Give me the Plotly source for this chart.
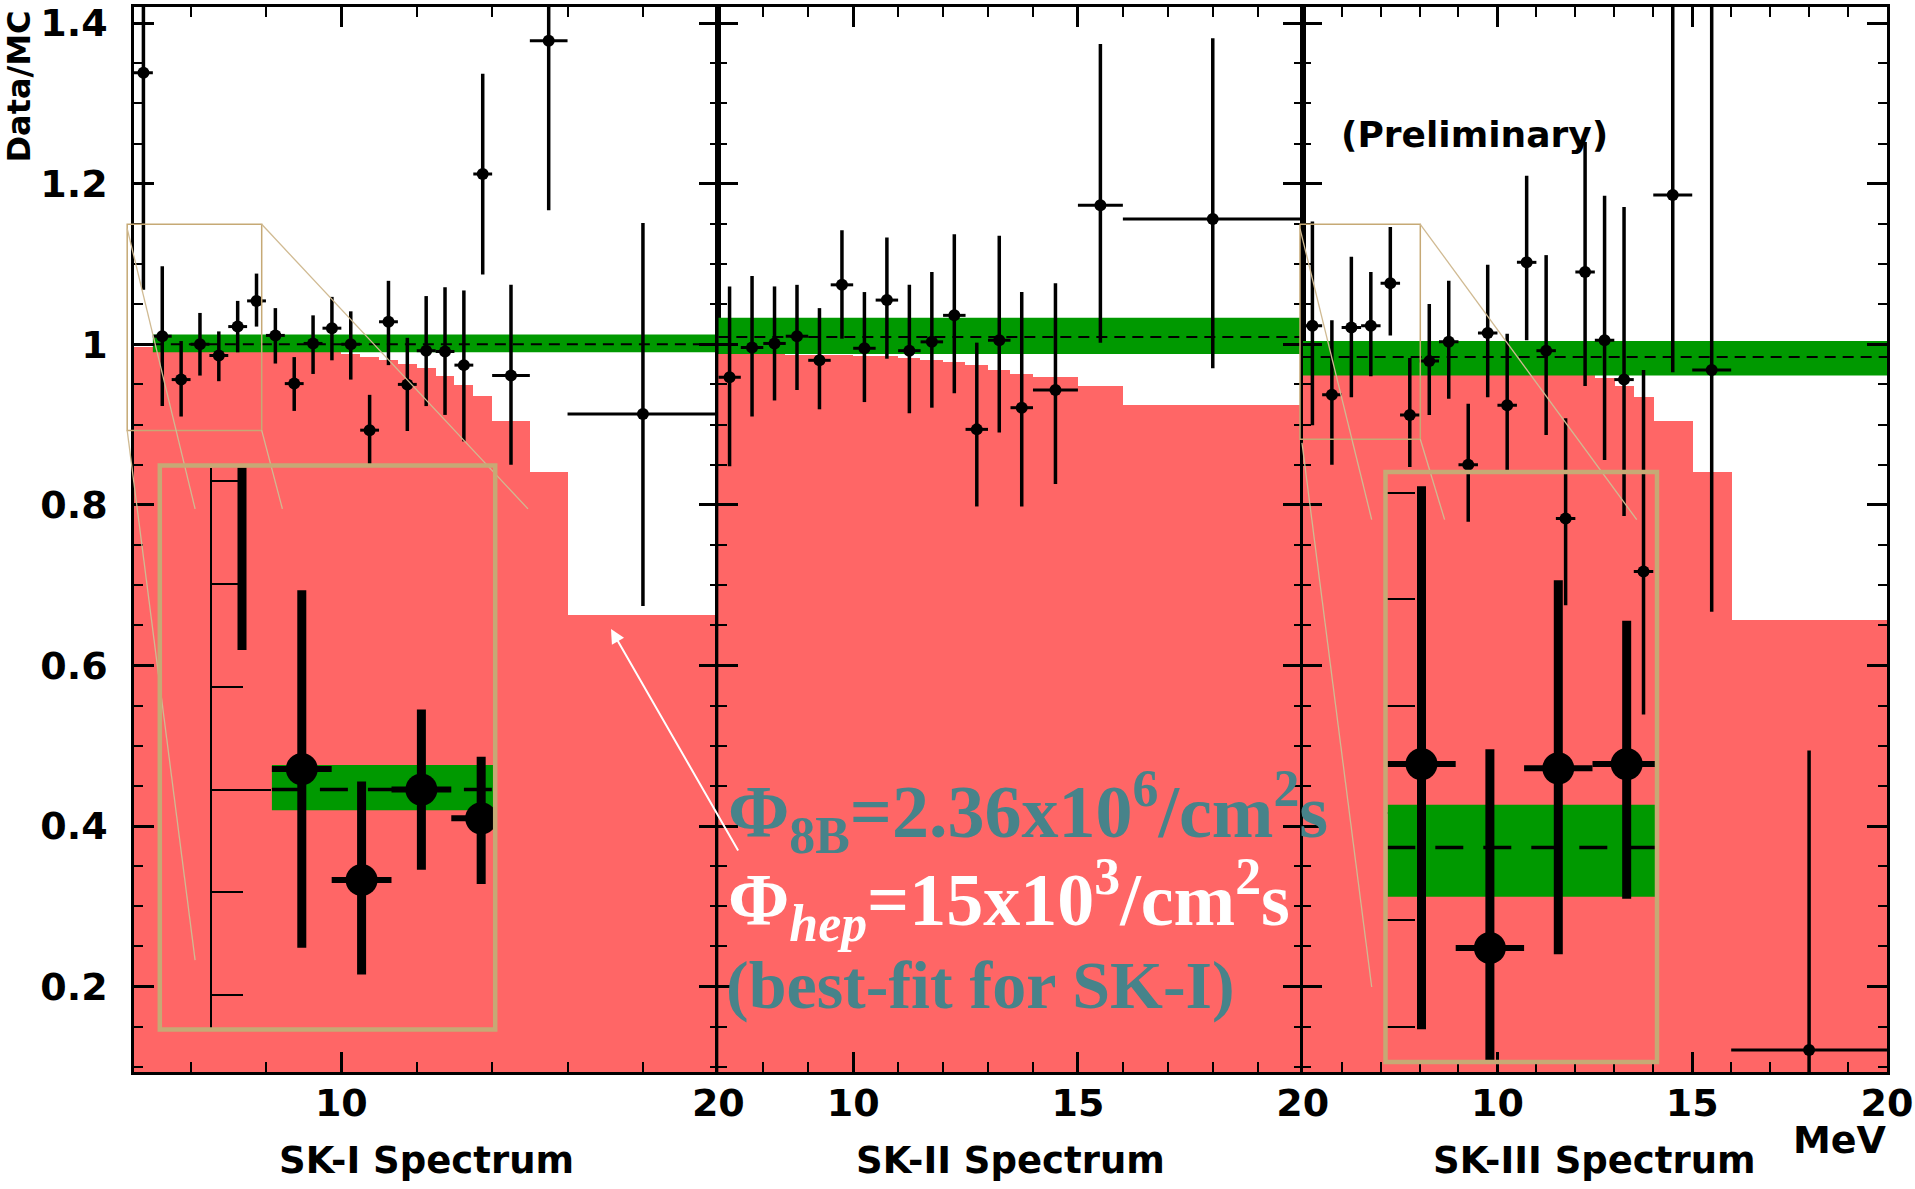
import plotly.graph_objects as go

# ---------------- data ----------------
# SK-I spectrum: bin centres (MeV), half widths, Data/MC, asymmetric errors
sk1_energy = [4.75, 5.25, 5.75, 6.25, 6.75, 7.25, 7.75, 8.25, 8.75, 9.25, 9.75,
              10.25, 10.75, 11.25, 11.75, 12.25, 12.75, 13.25, 13.75, 14.5, 15.5, 18.0]
sk1_halfwidth = [0.25, 0.25, 0.25, 0.25, 0.25, 0.25, 0.25, 0.25, 0.25, 0.25, 0.25,
                 0.25, 0.25, 0.25, 0.25, 0.25, 0.25, 0.25, 0.25, 0.5, 0.5, 2.0]
sk1_ratio = [1.338, 1.010, 0.956, 1.000, 0.986, 1.022, 1.054, 1.011, 0.951, 1.001, 1.020,
             1.000, 0.893, 1.028, 0.950, 0.992, 0.991, 0.974, 1.212, 0.961, 1.378, 0.913]
sk1_err_up = [0.27, 0.087, 0.048, 0.039, 0.030, 0.032, 0.034, 0.034, 0.033, 0.035, 0.039,
              0.041, 0.044, 0.051, 0.058, 0.068, 0.080, 0.093, 0.125, 0.113, 0.23, 0.238]
sk1_err_dn = [0.27, 0.087, 0.046, 0.039, 0.032, 0.032, 0.032, 0.035, 0.034, 0.038, 0.040,
              0.044, 0.044, 0.054, 0.058, 0.069, 0.079, 0.095, 0.125, 0.111, 0.211, 0.239]
sk1_mc_edges = [4.5, 5.0, 5.5, 6.0, 6.5, 7.0, 7.5, 8.0, 8.5, 9.0, 9.5, 10.0, 10.5, 11.0,
                11.5, 12.0, 12.5, 13.0, 13.5, 14.0, 15.0, 16.0, 20.0]
sk1_mc = [0.997, 0.996, 0.996, 0.995, 0.995, 0.994, 0.994, 0.993, 0.992, 0.991, 0.990,
          0.988, 0.984, 0.980, 0.975, 0.970, 0.960, 0.949, 0.936, 0.904, 0.841, 0.663]
sk1_band = [0.990, 1.012]
sk1_band_centre = 1.000
sk1_band_start = 5.0

# SK-II spectrum
sk2_energy = [7.25, 7.75, 8.25, 8.75, 9.25, 9.75, 10.25, 10.75, 11.25, 11.75, 12.25,
              12.75, 13.25, 13.75, 14.5, 15.5, 18.0]
sk2_halfwidth = [0.25, 0.25, 0.25, 0.25, 0.25, 0.25, 0.25, 0.25, 0.25, 0.25, 0.25,
                 0.25, 0.25, 0.25, 0.5, 0.5, 2.0]
sk2_ratio = [0.959, 0.996, 1.001, 1.010, 0.980, 1.074, 0.995, 1.055, 0.992, 1.003, 1.036,
             0.894, 1.005, 0.921, 0.943, 1.173, 1.156]
sk2_err_up = [0.113, 0.089, 0.071, 0.064, 0.065, 0.068, 0.070, 0.078, 0.082, 0.087, 0.101,
              0.108, 0.130, 0.144, 0.133, 0.201, 0.225]
sk2_err_dn = [0.111, 0.086, 0.071, 0.067, 0.061, 0.067, 0.067, 0.073, 0.078, 0.082, 0.097,
              0.096, 0.115, 0.123, 0.117, 0.171, 0.186]
sk2_mc_edges = [7.0, 7.5, 8.0, 8.5, 9.0, 9.5, 10.0, 10.5, 11.0, 11.5, 12.0, 12.5, 13.0,
                13.5, 14.0, 15.0, 16.0, 20.0]
sk2_mc = [0.988, 0.988, 0.988, 0.987, 0.987, 0.987, 0.986, 0.985, 0.983, 0.980, 0.978,
          0.974, 0.968, 0.963, 0.959, 0.948, 0.924]
sk2_band = [0.988, 1.033]
sk2_band_centre = 1.009
sk2_band_start = 7.0

# SK-III spectrum (preliminary)
sk3_energy = [5.25, 5.75, 6.25, 6.75, 7.25, 7.75, 8.25, 8.75, 9.25, 9.75, 10.25, 10.75,
              11.25, 11.75, 12.25, 12.75, 13.25, 13.75, 14.5, 15.5, 18.0]
sk3_halfwidth = [0.25, 0.25, 0.25, 0.25, 0.25, 0.25, 0.25, 0.25, 0.25, 0.25, 0.25, 0.25,
                 0.25, 0.25, 0.25, 0.25, 0.25, 0.25, 0.5, 0.5, 2.0]
sk3_ratio = [1.023, 0.937, 1.021, 1.023, 1.076, 0.912, 0.979, 1.003, 0.850, 1.014, 0.924,
             1.102, 0.992, 0.783, 1.090, 1.005, 0.956, 0.717, 1.186, 0.968, 0.121]
sk3_err_up = [0.130, 0.093, 0.088, 0.067, 0.070, 0.071, 0.071, 0.076, 0.076, 0.085, 0.089,
              0.108, 0.119, 0.125, 0.162, 0.180, 0.215, 0.251, 0.26, 0.48, 0.373]
sk3_err_dn = [0.124, 0.087, 0.087, 0.063, 0.065, 0.065, 0.067, 0.071, 0.071, 0.080, 0.081,
              0.097, 0.105, 0.108, 0.142, 0.149, 0.170, 0.178, 0.221, 0.301, 0.12]
sk3_mc_edges = [5.0, 5.5, 6.0, 6.5, 7.0, 7.5, 8.0, 8.5, 9.0, 9.5, 10.0, 10.5, 11.0, 11.5,
                12.0, 12.5, 13.0, 13.5, 14.0, 15.0, 16.0, 20.0]
sk3_mc = [0.996, 0.996, 0.995, 0.995, 0.994, 0.994, 0.993, 0.992, 0.991, 0.990, 0.988,
          0.984, 0.980, 0.975, 0.969, 0.958, 0.948, 0.934, 0.905, 0.841, 0.657]
sk3_band = [0.961, 1.004]
sk3_band_centre = 0.984
sk3_band_start = 5.0

panel_titles = ["SK-I Spectrum", "SK-II Spectrum", "SK-III Spectrum"]
y_tick_values = [0.2, 0.4, 0.6, 0.8, 1.0, 1.2, 1.4]
y_tick_text = ["0.2", "0.4", "0.6", "0.8", "1", "1.2", "1.4"]
energy_max = 20.0

# ---------------- layout geometry (pixels of the 1915x1189 page) ----------------
FIG_W, FIG_H = 1915, 1189
ML, MR, MT, MB = 134, 28, 7, 117
PLOT_W = FIG_W - ML - MR
PLOT_H = FIG_H - MT - MB


def fx(px):
    return (px - ML) / PLOT_W


def fy(py):
    return (FIG_H - MB - py) / PLOT_H


RED = "#FF6666"
GREEN = "#009900"
TAN = "#C6A975"
TAN_LIGHT = "#D0BA92"
TEAL = "#47838A"
Y_RANGE = [0.0937, 1.42]

panels = [
    dict(e=sk1_energy, hw=sk1_halfwidth, r=sk1_ratio, up=sk1_err_up, dn=sk1_err_dn,
         edges=sk1_mc_edges, mc=sk1_mc, band=sk1_band, c=sk1_band_centre, start=sk1_band_start,
         xr=[4.5, 20], xa="x", ya="y", tv=[10, 20], mdt=2),
    dict(e=sk2_energy, hw=sk2_halfwidth, r=sk2_ratio, up=sk2_err_up, dn=sk2_err_dn,
         edges=sk2_mc_edges, mc=sk2_mc, band=sk2_band, c=sk2_band_centre, start=sk2_band_start,
         xr=[7, 20], xa="x2", ya="y2", tv=[10, 15, 20], mdt=1),
    dict(e=sk3_energy, hw=sk3_halfwidth, r=sk3_ratio, up=sk3_err_up, dn=sk3_err_dn,
         edges=sk3_mc_edges, mc=sk3_mc, band=sk3_band, c=sk3_band_centre, start=sk3_band_start,
         xr=[5, 20], xa="x3", ya="y3", tv=[10, 15, 20], mdt=1),
]

fig = go.Figure()


def add_band(p, xa, ya, dash, dwidth):
    lo, hi = p["band"]
    fig.add_trace(go.Scatter(
        x=[p["start"], energy_max, energy_max, p["start"]], y=[lo, lo, hi, hi],
        mode="lines", fill="toself", fillcolor=GREEN, line=dict(width=0),
        xaxis=xa, yaxis=ya, hoverinfo="skip"))
    fig.add_trace(go.Scatter(
        x=[p["start"], energy_max], y=[p["c"], p["c"]], mode="lines",
        line=dict(color="black", width=dwidth, dash=dash),
        xaxis=xa, yaxis=ya, hoverinfo="skip"))


def add_points(p, xa, ya, msize, tx, ty):
    fig.add_trace(go.Scatter(
        x=p["e"], y=p["r"], mode="markers",
        marker=dict(size=msize, color="black", symbol="circle", line=dict(width=0)),
        error_x=dict(type="data", array=p["hw"], color="black", thickness=tx, width=0),
        error_y=dict(type="data", array=p["up"], arrayminus=p["dn"], color="black",
                     thickness=ty, width=0),
        xaxis=xa, yaxis=ya))


for p in panels:
    edges = p["edges"]
    centres = [(a + b) / 2 for a, b in zip(edges[:-1], edges[1:])]
    widths = [b - a for a, b in zip(edges[:-1], edges[1:])]
    fig.add_trace(go.Bar(x=centres, y=p["mc"], width=widths, marker=dict(color=RED, line=dict(width=0)),
                         xaxis=p["xa"], yaxis=p["ya"], hoverinfo="skip"))
    add_band(p, p["xa"], p["ya"], "11px,7px", 2)
    add_points(p, p["xa"], p["ya"], 12, 3, 3.5)

# magnified insets (SK-I in x4/y4, SK-III in x5/y5)
add_band(panels[0], "x4", "y4", "28px,20px", 3.5)
add_points(panels[0], "x4", "y4", 32, 6, 9)
add_band(panels[2], "x5", "y5", "28px,20px", 3.5)
add_points(panels[2], "x5", "y5", 32, 6, 9)

tickfont = dict(family="DejaVu Sans", size=38, color="black", weight="bold")
layout_axes = {}
for i, p in enumerate(panels):
    n = "" if i == 0 else str(i + 1)
    layout_axes["xaxis" + n] = dict(
        domain=[i / 3, (i + 1) / 3], range=p["xr"], anchor="y" + n,
        showline=True, linecolor="black", linewidth=2.5, mirror="allticks",
        ticks="inside", ticklen=20, tickwidth=2.5, tickcolor="black",
        tickvals=p["tv"], ticktext=[str(v) for v in p["tv"]],
        tickfont=tickfont, ticklabelstandoff=-4,
        minor=dict(ticks="inside", ticklen=10, tickwidth=2, tickcolor="black",
                   dtick=p["mdt"], tick0=0, showgrid=False),
        showgrid=False, zeroline=False, fixedrange=True)
    layout_axes["yaxis" + n] = dict(
        domain=[0, 1], range=Y_RANGE, anchor="x" + n,
        showline=True, linecolor="black", linewidth=2.5, mirror="allticks",
        ticks="inside", ticklen=20, tickwidth=2.5, tickcolor="black",
        tickvals=y_tick_values, ticktext=y_tick_text,
        showticklabels=(i == 0), tickfont=tickfont, ticklabelstandoff=16,
        minor=dict(ticks="inside", ticklen=9, tickwidth=2, tickcolor="black",
                   dtick=0.05, tick0=0, showgrid=False),
        showgrid=False, zeroline=False, fixedrange=True)

# inset axes (domains placed over the tan frames)
inset_specs = [
    ("4", [fx(212.1), fx(493.5)], [fy(1027.5), fy(467.5)], [4.5, 6.853], [0.8842, 1.1568], 31),
    ("5", [fx(1387.3), fx(1655)], [fy(1060.6), fy(474)], [5.0, 6.957], [0.8843, 1.1587], 28),
]
for n, dx, dy, rx, ry, tl in inset_specs:
    layout_axes["xaxis" + n] = dict(domain=dx, range=rx, anchor="y" + n, visible=False)
    layout_axes["yaxis" + n] = dict(
        domain=dy, range=ry, anchor="x" + n, showline=True, linecolor="black", linewidth=1.5,
        ticks="inside", tickvals=[1.0], ticklen=59, tickwidth=1.5, tickcolor="black",
        showticklabels=False, layer="below traces",
        minor=dict(ticks="inside", ticklen=tl, tickwidth=1.5, tickcolor="black",
                   dtick=0.05, tick0=0, showgrid=False),
        showgrid=False, zeroline=False)

shapes = []


def rect(x0, y0, x1, y1, color, w):
    shapes.append(dict(type="rect", xref="paper", yref="paper", x0=fx(x0), x1=fx(x1),
                       y0=fy(y1), y1=fy(y0), line=dict(color=color, width=w),
                       fillcolor="rgba(0,0,0,0)", layer="above"))


def seg(x0, y0, x1, y1, color, w):
    shapes.append(dict(type="line", xref="paper", yref="paper", x0=fx(x0), x1=fx(x1),
                       y0=fy(y0), y1=fy(y1), line=dict(color=color, width=w), layer="above"))


# SK-I zoom frames
rect(127.2, 224.3, 261.7, 430.4, TAN, 1.5)
seg(127.2, 228.6, 195.1, 508.9, TAN_LIGHT, 1.3)
seg(261.7, 224.3, 528.0, 508.9, TAN_LIGHT, 1.3)
seg(261.7, 430.4, 282.4, 508.9, TAN_LIGHT, 1.3)
seg(127.2, 430.4, 195.1, 960.1, TAN_LIGHT, 1.3)
rect(159.8, 465.5, 495.2, 1029.5, TAN, 4.5)
# SK-III zoom frames
rect(1300.0, 224.3, 1420.3, 439.3, TAN, 1.5)
seg(1300.0, 228.6, 1371.7, 519.6, TAN_LIGHT, 1.3)
seg(1420.3, 224.3, 1636.7, 519.6, TAN_LIGHT, 1.3)
seg(1420.3, 439.3, 1444.6, 519.6, TAN_LIGHT, 1.3)
seg(1302.0, 442.9, 1371.7, 987.0, TAN_LIGHT, 1.3)
rect(1385.5, 472.0, 1657.0, 1062.0, TAN, 4.5)

bold = dict(family="DejaVu Sans", color="black", weight="bold")
serif = dict(family="Liberation Serif", weight="bold")
annotations = [
    dict(text="Data/MC", x=fx(18), y=fy(86.5), textangle=-90, font=dict(size=32, **bold)),
    dict(text="(Preliminary)", x=fx(1474), y=fy(134), font=dict(size=36, **bold)),
    dict(text=panel_titles[0], x=fx(426), y=fy(1160), font=dict(size=37, **bold)),
    dict(text=panel_titles[1], x=fx(1010), y=fy(1160), font=dict(size=37, **bold)),
    dict(text=panel_titles[2], x=fx(1594), y=fy(1160), font=dict(size=37, **bold)),
    dict(text="MeV", x=fx(1889), y=fy(1140), xanchor="right", font=dict(size=38, **bold)),
    dict(text="Φ<sub>8B</sub>=2.36x10<sup>6</sup>/cm<sup>2</sup>s", x=fx(726), y=fy(812),
         xanchor="left", font=dict(size=74, color=TEAL, **serif)),
    dict(text="Φ<sub><i>hep</i></sub>=15x10<sup>3</sup>/cm<sup>2</sup>s", x=fx(726), y=fy(900),
         xanchor="left", font=dict(size=74, color="white", **serif)),
    dict(text="(best-fit for SK-I)", x=fx(724), y=fy(985),
         xanchor="left", font=dict(size=68, color=TEAL, **serif)),
]
for a in annotations:
    a.setdefault("xref", "paper")
    a.setdefault("yref", "paper")
    a.setdefault("showarrow", False)
    a.setdefault("xanchor", "center")
    a.setdefault("yanchor", "middle")
annotations.append(dict(text="", x=fx(611), y=fy(629), xref="paper", yref="paper",
                        showarrow=True, ax=128, ay=223, arrowcolor="white", arrowwidth=2,
                        arrowhead=2, arrowsize=1.4))

fig.update_layout(
    width=FIG_W, height=FIG_H, autosize=False,
    margin=dict(l=ML, r=MR, t=MT, b=MB, pad=0, autoexpand=False),
    paper_bgcolor="white", plot_bgcolor="rgba(0,0,0,0)",
    showlegend=False, barmode="overlay", bargap=0,
    shapes=shapes, annotations=annotations, **layout_axes)

fig.write_html("out.html")
